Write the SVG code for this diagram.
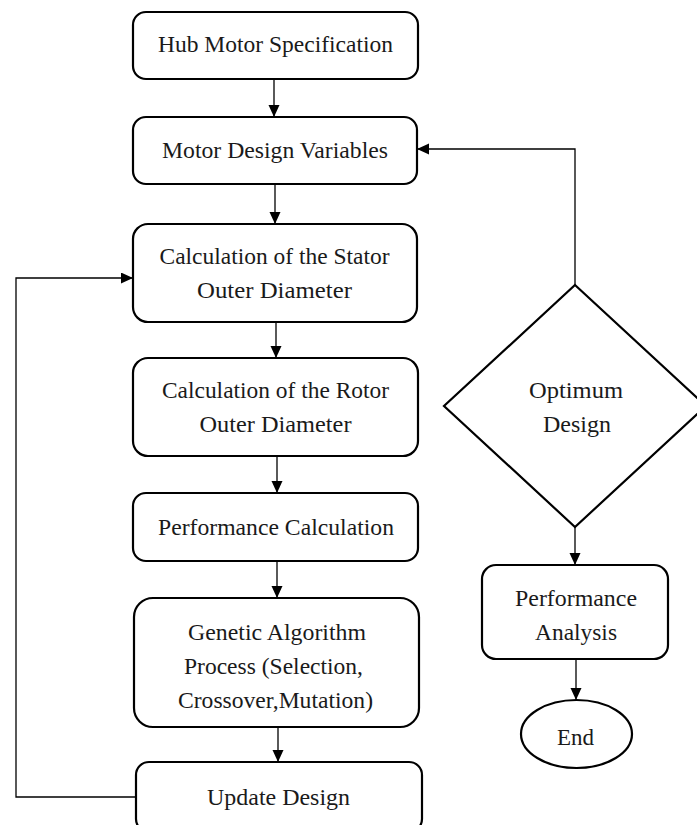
<svg xmlns="http://www.w3.org/2000/svg" width="697" height="825" viewBox="0 0 697 825">
<style>
.box{fill:#fff;stroke:#000;stroke-width:2.2}
.t{font-family:"Liberation Serif","Times New Roman",serif;font-size:22.5px;fill:#1a1a1a;text-anchor:middle}
.c{fill:none;stroke:#000;stroke-width:1.3}
</style>
<defs>
<marker id="ah" markerUnits="userSpaceOnUse" markerWidth="14" markerHeight="12" refX="12" refY="5.5" orient="auto">
<path d="M0,0 L12,5.5 L0,11 Z" fill="#000"/>
</marker>
</defs>
<rect width="697" height="825" fill="#fff"/>
<g id="connectors">
<line class="c" x1="274" y1="79" x2="274" y2="117" marker-end="url(#ah)"/>
<line class="c" x1="275" y1="184" x2="275" y2="224" marker-end="url(#ah)"/>
<line class="c" x1="276" y1="322" x2="276" y2="358" marker-end="url(#ah)"/>
<line class="c" x1="277" y1="456" x2="277" y2="493" marker-end="url(#ah)"/>
<line class="c" x1="277" y1="561" x2="277" y2="598" marker-end="url(#ah)"/>
<line class="c" x1="278" y1="727" x2="278" y2="762" marker-end="url(#ah)"/>
<polyline class="c" points="136,797 16,797 16,278 133,278" marker-end="url(#ah)"/>
<polyline class="c" points="575,285 575,149 417,149" marker-end="url(#ah)"/>
<line class="c" x1="575" y1="527" x2="575" y2="565" marker-end="url(#ah)"/>
<line class="c" x1="576" y1="659" x2="576" y2="700" marker-end="url(#ah)"/>
</g>
<g id="hub">
<rect class="box" x="133" y="12" width="285" height="67" rx="13"/>
<text class="t" x="275.5" y="52" textLength="235" lengthAdjust="spacingAndGlyphs">Hub Motor Specification</text>
</g>
<g id="variables">
<rect class="box" x="133" y="117" width="284" height="67" rx="13"/>
<text class="t" x="275" y="158" textLength="226" lengthAdjust="spacingAndGlyphs">Motor Design Variables</text>
</g>
<g id="stator">
<rect class="box" x="133" y="224" width="284" height="98" rx="15"/>
<text class="t" x="274.5" y="264" textLength="230" lengthAdjust="spacingAndGlyphs">Calculation of the Stator</text>
<text class="t" x="274.5" y="298" textLength="155" lengthAdjust="spacingAndGlyphs">Outer Diameter</text>
</g>
<g id="rotor">
<rect class="box" x="133" y="358" width="285" height="98" rx="15"/>
<text class="t" x="275.5" y="398" textLength="227" lengthAdjust="spacingAndGlyphs">Calculation of the Rotor</text>
<text class="t" x="275.5" y="432" textLength="152" lengthAdjust="spacingAndGlyphs">Outer Diameter</text>
</g>
<g id="performance">
<rect class="box" x="133" y="493" width="285" height="68" rx="13"/>
<text class="t" x="276" y="535" textLength="236" lengthAdjust="spacingAndGlyphs">Performance Calculation</text>
</g>
<g id="genetic">
<rect class="box" x="134" y="598" width="285" height="129" rx="19"/>
<text class="t" x="277" y="640" textLength="178" lengthAdjust="spacingAndGlyphs">Genetic Algorithm</text>
<text class="t" x="273.5" y="674" textLength="179" lengthAdjust="spacingAndGlyphs">Process (Selection,</text>
<text class="t" x="275.5" y="708" textLength="195" lengthAdjust="spacingAndGlyphs">Crossover,Mutation)</text>
</g>
<g id="update">
<rect class="box" x="136" y="762" width="286" height="70" rx="13"/>
<text class="t" x="278.5" y="805" textLength="143" lengthAdjust="spacingAndGlyphs">Update Design</text>
</g>
<g id="optimum">
<polygon class="box" points="575,285 706,406 575,527 444,406"/>
<text class="t" x="576" y="398" textLength="94" lengthAdjust="spacingAndGlyphs">Optimum</text>
<text class="t" x="577" y="432" textLength="68" lengthAdjust="spacingAndGlyphs">Design</text>
</g>
<g id="analysis">
<rect class="box" x="482" y="565" width="186" height="94" rx="14"/>
<text class="t" x="576" y="606" textLength="122" lengthAdjust="spacingAndGlyphs">Performance</text>
<text class="t" x="576" y="640" textLength="82" lengthAdjust="spacingAndGlyphs">Analysis</text>
</g>
<g id="end">
<ellipse class="box" cx="576.5" cy="734" rx="55.5" ry="34"/>
<text class="t" x="575.5" y="745" textLength="37" lengthAdjust="spacingAndGlyphs">End</text>
</g>
</svg>
